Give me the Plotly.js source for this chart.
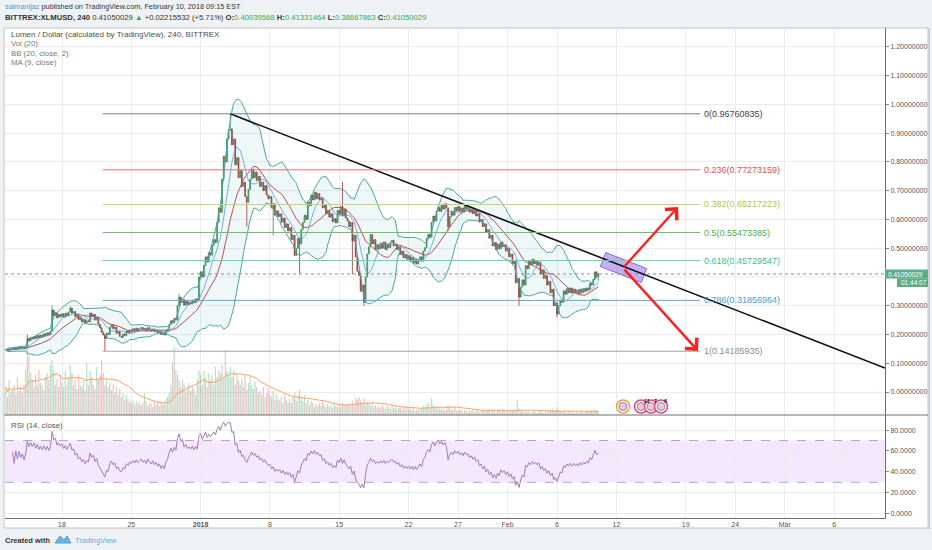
<!DOCTYPE html>
<html>
<head>
<meta charset="utf-8">
<script src="https://cdn.plot.ly/plotly-3.0.1.min.js"></script>
<style>
  html, body { margin: 0; padding: 0; background: #eef2f5; }
  #chart { width: 932px; height: 550px; }
</style>
</head>
<body>
<div id="chart"></div>
<script>
// BITTREX:XLMUSD, 240 minute candles
var firstCandle = Date.UTC(2017, 11, 12, 8, 0);
var candleMs = 4 * 3600 * 1000;
var firstOpen = 0.147;

var closes = [
  0.148, 0.143, 0.151, 0.147,                     // Dec 12
  0.152, 0.147, 0.155, 0.150, 0.157, 0.152,       // Dec 13
  0.156, 0.150, 0.158, 0.186, 0.178, 0.190,
  0.184, 0.194, 0.186, 0.197, 0.189, 0.198,
  0.192, 0.203, 0.196, 0.206, 0.199, 0.212,
  0.285, 0.266, 0.276, 0.258, 0.270, 0.262,       // Dec 17
  0.272, 0.260, 0.274, 0.264, 0.278, 0.292,
  0.274, 0.280, 0.262, 0.270, 0.252, 0.258,
  0.244, 0.252, 0.238, 0.248, 0.244, 0.275,
  0.262, 0.270, 0.250, 0.260, 0.236, 0.224,
  0.208, 0.198, 0.186, 0.205, 0.200, 0.226,       // Dec 22
  0.234, 0.220, 0.226, 0.204, 0.210, 0.194,
  0.190, 0.202, 0.196, 0.212, 0.206, 0.216,
  0.212, 0.220, 0.213, 0.222, 0.214, 0.219,
  0.224, 0.216, 0.221, 0.213, 0.224, 0.217,
  0.212, 0.219, 0.210, 0.215, 0.206, 0.211,       // Dec 27
  0.200, 0.206, 0.198, 0.212, 0.218, 0.235,
  0.248, 0.240, 0.256, 0.250, 0.300, 0.330,
  0.312, 0.322, 0.302, 0.316, 0.304, 0.312,
  0.306, 0.320, 0.310, 0.324, 0.318, 0.400,
  0.418, 0.400, 0.440, 0.470, 0.452, 0.485,       // Jan 1
  0.476, 0.510, 0.530, 0.520, 0.590, 0.640,
  0.625, 0.740, 0.820, 0.800, 0.880, 0.910,
  0.915, 0.860, 0.880, 0.790, 0.815, 0.745,
  0.770, 0.715, 0.730, 0.680, 0.660, 0.705,
  0.740, 0.775, 0.745, 0.765, 0.735, 0.750,       // Jan 6
  0.715, 0.730, 0.700, 0.718, 0.685, 0.672,
  0.680, 0.640, 0.655, 0.615, 0.630, 0.610,
  0.620, 0.590, 0.605, 0.572, 0.585, 0.560,
  0.572, 0.530, 0.545, 0.475, 0.500, 0.535,
  0.515, 0.565, 0.590, 0.615, 0.600, 0.660,       // Jan 11
  0.648, 0.685, 0.668, 0.695, 0.672, 0.690,
  0.668, 0.676, 0.640, 0.652, 0.620, 0.632,
  0.608, 0.620, 0.592, 0.603, 0.588, 0.632,
  0.618, 0.645, 0.612, 0.636, 0.605, 0.595,
  0.575, 0.590, 0.525, 0.545, 0.470, 0.420,       // Jan 16
  0.405, 0.350, 0.372, 0.312, 0.400, 0.480,
  0.505, 0.548, 0.515, 0.530, 0.495, 0.512,
  0.498, 0.518, 0.500, 0.522, 0.495, 0.515,
  0.502, 0.520, 0.528, 0.508, 0.515, 0.495,
  0.505, 0.478, 0.490, 0.466, 0.478, 0.462,       // Jan 21
  0.474, 0.455, 0.468, 0.448, 0.462, 0.445,
  0.456, 0.470, 0.455, 0.490, 0.502, 0.535,
  0.548, 0.538, 0.590, 0.612, 0.595, 0.630,
  0.642, 0.628, 0.650, 0.636, 0.655, 0.640,
  0.575, 0.610, 0.628, 0.615, 0.642, 0.630,       // Jan 26
  0.645, 0.628, 0.640, 0.626, 0.648, 0.636,
  0.642, 0.625, 0.636, 0.620, 0.632, 0.612,
  0.620, 0.592, 0.600, 0.575, 0.585, 0.555,
  0.565, 0.535, 0.545, 0.508, 0.520, 0.495,
  0.515, 0.498, 0.522, 0.505, 0.512, 0.490,       // Jan 31
  0.500, 0.470, 0.480, 0.445, 0.455, 0.380,
  0.395, 0.330, 0.365, 0.390, 0.372, 0.440,
  0.428, 0.455, 0.442, 0.462, 0.446, 0.455,
  0.440, 0.452, 0.410, 0.425, 0.395, 0.405,
  0.372, 0.385, 0.345, 0.358, 0.300, 0.310,       // Feb 5
  0.272, 0.300, 0.320, 0.312, 0.352, 0.340,
  0.360, 0.345, 0.362, 0.344, 0.358, 0.345,
  0.355, 0.342, 0.358, 0.346, 0.360, 0.350,
  0.362, 0.355, 0.378, 0.372, 0.392, 0.418,
  0.40039568, 0.41050029                           // Feb 10
];

// volume per candle (scaled units, as bar heights in the picture)
var volumes = [
  28, 18, 35, 22,
  25, 30, 20, 38, 24, 28,
  22, 30, 45, 80, 60, 42,
  35, 28, 40, 30, 45, 32,
  30, 25, 38, 42, 35, 50,
  55, 45, 30, 36, 28, 40,
  32, 28, 44, 30, 38, 50,
  42, 30, 35, 26, 40, 30,
  28, 35, 25, 52, 30, 44,
  38, 30, 26, 48, 35, 40,
  55, 42, 30, 36, 28, 32,
  25, 30, 22, 28, 20, 26,
  18, 22, 15, 20, 16, 14,
  12, 15, 10, 14, 11, 13,
  10, 12, 22, 14, 9, 12,
  11, 8, 13, 10, 12, 9,
  14, 10, 12, 16, 18, 22,
  30, 52, 68, 45, 40, 35,
  28, 35, 30, 22, 26, 32,
  24, 30, 26, 20, 35, 45,
  40, 30, 44, 38, 28, 42,
  35, 40, 30, 48, 38, 45,
  42, 50, 36, 65, 44, 40,
  48, 38, 45, 30, 42, 35,
  30, 36, 28, 40, 25, 32,
  38, 30, 26, 34, 28, 22,
  24, 20, 28, 18, 22, 26,
  20, 18, 24, 15, 20, 16,
  14, 18, 12, 20, 15, 13,
  16, 12, 18, 22, 14, 20,
  25, 18, 14, 20, 12, 15,
  10, 14, 12, 8, 11, 9,
  12, 9, 14, 10, 8, 11,
  8, 10, 7, 12, 9, 8,
  10, 8, 12, 9, 11, 10,
  12, 9, 14, 11, 17, 15,
  18, 14, 12, 16, 10, 13,
  11, 9, 13, 8, 10, 7,
  9, 7, 10, 8, 6, 9,
  8, 6, 9, 7, 10, 6,
  7, 9, 5, 8, 6, 7,
  6, 8, 5, 7, 4, 6,
  5, 7, 6, 9, 8, 10,
  12, 8, 17, 10, 7, 9,
  6, 8, 5, 7, 4, 6,
  10, 7, 5, 6, 8, 5,
  4, 6, 5, 3, 5, 4,
  3, 5, 4, 6, 3, 4,
  5, 3, 4, 6, 4, 5,
  4, 6, 3, 5, 4, 3,
  5, 4, 3, 6, 4, 3,
  4, 3, 5, 4, 6, 5,
  15, 6, 4, 5, 3, 4,
  3, 4, 2, 3, 5, 3,
  2, 3, 4, 3, 2, 4,
  3, 5, 4, 6, 5, 4,
  8, 5, 4, 3, 4, 3,
  2, 3, 4, 2, 3, 2,
  3, 2, 3, 4, 2, 3,
  3, 4, 3, 5, 4, 6,
  5, 4
];

// long wicks that stand out
var wickTimes = ['2017-12-14 12:00', '2017-12-17 00:00', '2017-12-18 20:00', '2017-12-22 08:00',
  '2017-12-29 20:00', '2018-01-04 00:00', '2018-01-05 16:00', '2018-01-08 08:00', '2018-01-11 00:00',
  '2018-01-15 08:00', '2018-01-16 08:00', '2018-01-17 12:00', '2018-01-26 00:00', '2018-02-02 04:00',
  '2018-02-06 00:00', '2018-02-10 04:00'];
var wickHighs = [0.200, 0.300, 0.298, null, 0.340, 0.96760835, null, null, null,
  0.730, null, null, null, null, null, 0.41331464];
var wickLows = [null, null, null, 0.14185935, null, null, 0.575, 0.545, 0.410,
  null, 0.410, 0.300, 0.560, 0.300, 0.260, 0.38667863];

// fibonacci retracement drawn between the Dec 22 low and the Jan 4 high
var fibRatios = ['0', '0.236', '0.382', '0.5', '0.618', '0.786', '1'];
var fibPrices = [0.96760835, 0.77273159, 0.65217223, 0.55473385, 0.45729547, 0.31856964, 0.14185935];
var fibLineColors = ['#7d7d7d', '#e57373', '#cdd46e', '#6cc06c', '#66d2b4', '#5ca8d8', '#a0a0a0'];
var fibTextColors = ['#444444', '#d9534f', '#b9c04a', '#4caf50', '#3dbb9b', '#4a9bd1', '#8c8c8c'];

var tickDates = ['2017-12-18', '2017-12-25', '2018-01-01', '2018-01-08', '2018-01-15', '2018-01-22',
  '2018-01-27', '2018-02-01', '2018-02-06', '2018-02-12', '2018-02-19', '2018-02-24', '2018-03-01', '2018-03-06'];
var tickText = ['18', '25', '<b>2018</b>', '8', '15', '22', '27', 'Feb', '6', '12', '19', '24', 'Mar', '6'];
// 0.4 is covered by the last-price tag, so it gets only a grid line
var priceTicks = [0, 0.1, 0.2, 0.3, 0.5, 0.6, 0.7, 0.8, 0.9, 1.0, 1.1, 1.2];
var rsiTicks = [0, 20, 40, 60, 80];

var lastPrice = 0.41050029;

// ---------- helpers ----------
var W = 932, H = 550, ML = 5, MR = 47, MT = 28, MB = 32;
function px(x) { return (x - ML) / (W - ML - MR); }
function py(y) { return (H - MB - y) / (H - MT - MB); }
function stamp(ms) { return new Date(ms).toISOString().slice(0, 16).replace('T', ' '); }

function movingAvg(arr, n) {
  return arr.map(function (v, i) {
    var s = 0, k = 0;
    for (var j = Math.max(0, i - n + 1); j <= i; j++) { s += arr[j]; k++; }
    return s / k;
  });
}
function movingStd(arr, n, mean) {
  return arr.map(function (v, i) {
    var s = 0, k = 0;
    for (var j = Math.max(0, i - n + 1); j <= i; j++) { s += Math.pow(arr[j] - mean[i], 2); k++; }
    return Math.sqrt(s / k);
  });
}
function rsi(arr, n, skip) {
  var out = [null], gain = 0, loss = 0;
  for (var i = 1; i < arr.length; i++) {
    var ch = arr[i] - arr[i - 1];
    var k = Math.min(i, n);
    gain = (gain * (k - 1) + Math.max(ch, 0)) / k;
    loss = (loss * (k - 1) + Math.max(-ch, 0)) / k;
    out.push(i < skip ? null : (loss === 0 ? 100 : 100 - 100 / (1 + gain / loss)));
  }
  return out;
}

var n = Math.min(closes.length, volumes.length);
var times = [], opens = [], highs = [], lows = [], volColors = [];
for (var i = 0; i < n; i++) {
  times.push(stamp(firstCandle + i * candleMs));
  var o = i === 0 ? firstOpen : closes[i - 1];
  opens.push(o);
  var hi = Math.max(o, closes[i]), lo = Math.min(o, closes[i]);
  var w = wickTimes.indexOf(times[i]);
  if (w >= 0) {
    if (wickHighs[w] !== null) hi = Math.max(hi, wickHighs[w]);
    if (wickLows[w] !== null) lo = Math.min(lo, wickLows[w]);
  }
  highs.push(hi); lows.push(lo);
  volColors.push(closes[i] >= o ? 'rgba(110,190,140,0.48)' : 'rgba(225,120,130,0.45)');
}
var cl = closes.slice(0, n);
var basis = movingAvg(cl, 20);
var dev = movingStd(cl, 20, basis);
var upper = basis.map(function (b, i) { return b + 2 * dev[i]; });
var lower = basis.map(function (b, i) { return b - 2 * dev[i]; });
var ma9 = movingAvg(cl, 9);
var volMa = movingAvg(volumes.slice(0, n), 20);
var rsiVals = rsi(cl, 14, 4);

var xRange = ['2017-12-12 05:49', '2018-03-11 03:10'];
var fibStart = '2017-12-22 02:40', fibEnd = '2018-02-20 10:48';
var trendStart = ['2018-01-04 00:00', 0.96760835], trendEnd = [xRange[1], 0.0835];

// ---------- traces ----------
var traces = [
  { type: 'bar', x: times, y: volumes.slice(0, n), xaxis: 'x', yaxis: 'y',
    marker: { color: volColors, line: { width: 0 } }, width: candleMs * 0.75 },
  { type: 'scatter', mode: 'lines', x: times, y: volMa, xaxis: 'x', yaxis: 'y',
    line: { color: '#f4a460', width: 1 } },
  { type: 'scatter', mode: 'lines', x: times, y: upper, xaxis: 'x', yaxis: 'y3',
    line: { color: '#4aa6a0', width: 1 } },
  { type: 'scatter', mode: 'lines', x: times, y: lower, xaxis: 'x', yaxis: 'y3',
    line: { color: '#4aa6a0', width: 1 }, fill: 'tonexty', fillcolor: 'rgba(120,200,205,0.13)' },
  { type: 'scatter', mode: 'lines', x: times, y: basis, xaxis: 'x', yaxis: 'y3',
    line: { color: '#b5524f', width: 1 } },
  { type: 'candlestick', x: times, open: opens, high: highs, low: lows, close: cl,
    xaxis: 'x', yaxis: 'y3', whiskerwidth: 0,
    increasing: { line: { color: '#2f8a56', width: 0.8 }, fillcolor: '#3fa56a' },
    decreasing: { line: { color: '#9e3030', width: 0.8 }, fillcolor: '#c2403f' } },
  { type: 'scatter', mode: 'lines', x: times, y: ma9, xaxis: 'x', yaxis: 'y3',
    line: { color: '#5a9bd8', width: 0.8 } },
  { type: 'scatter', mode: 'lines', x: times, y: rsiVals, xaxis: 'x', yaxis: 'y2',
    line: { color: '#a07cb8', width: 1 } },
  // highlighted zone on the trendline
  { type: 'scatter', mode: 'lines', xaxis: 'x', yaxis: 'y3',
    x: ['2018-02-10 08:53', '2018-02-10 22:05', '2018-02-15 01:26', '2018-02-14 12:28', '2018-02-10 08:53'],
    y: [0.4365, 0.4852, 0.4296, 0.3809, 0.4365],
    fill: 'toself', fillcolor: 'rgba(150,110,225,0.55)', line: { color: '#8a6ad6', width: 1 } }
];

// ---------- shapes ----------
var shapes = [
  { type: 'rect', xref: 'paper', yref: 'paper', x0: px(4), x1: px(928), y0: py(528), y1: py(28),
    fillcolor: '#ffffff', line: { color: '#c4c4c4', width: 1 }, layer: 'below' },
  { type: 'line', xref: 'paper', yref: 'paper', x0: px(929), x1: px(929), y0: py(529), y1: py(28),
    line: { color: '#d0d3d6', width: 2 } },
  { type: 'line', xref: 'paper', yref: 'y3', x0: 0, x1: 1, y0: 0.4, y1: 0.4,
    line: { color: '#ececec', width: 1 }, layer: 'below' },
  { type: 'rect', xref: 'paper', yref: 'y2', x0: 0, x1: 1, y0: 30, y1: 70,
    fillcolor: 'rgba(215,170,250,0.28)', line: { width: 0 }, layer: 'below' },
  { type: 'line', xref: 'paper', yref: 'y2', x0: 0, x1: 1, y0: 70, y1: 70,
    line: { color: '#b9a3c9', width: 1, dash: 'dash' } },
  { type: 'line', xref: 'paper', yref: 'y2', x0: 0, x1: 1, y0: 30, y1: 30,
    line: { color: '#b9a3c9', width: 1, dash: 'dash' } },
  { type: 'line', xref: 'paper', yref: 'paper', x0: px(4), x1: px(928), y0: py(415), y1: py(415),
    line: { color: '#6e6e6e', width: 1 } },
  { type: 'line', xref: 'paper', yref: 'y3', x0: 0, x1: 1, y0: lastPrice, y1: lastPrice,
    line: { color: '#8c8c8c', width: 1, dash: 'dot' } },
  { type: 'line', xref: 'x', yref: 'y3', x0: trendStart[0], y0: trendStart[1], x1: trendEnd[0], y1: trendEnd[1],
    line: { color: '#111111', width: 1.6 } },
  { type: 'rect', xref: 'paper', yref: 'paper', x0: px(885), x1: px(928), y0: py(278.5), y1: py(269.5),
    fillcolor: '#5aad86', line: { width: 0 } },
  { type: 'rect', xref: 'paper', yref: 'paper', x0: px(897), x1: px(928), y0: py(287), y1: py(278.5),
    fillcolor: '#5aad86', line: { width: 0 } }
];
fibPrices.forEach(function (p, i) {
  shapes.push({ type: 'line', xref: 'x', yref: 'y3', x0: fibStart, x1: fibEnd, y0: p, y1: p,
    line: { color: fibLineColors[i], width: 1 } });
});
// economic calendar markers
var eventPx = [623, 641, 651, 661];
var eventRing = ['#f0a040', '#e3447a', '#e3447a', '#e3447a'];
eventPx.forEach(function (x, i) {
  shapes.push({ type: 'circle', xref: 'paper', yref: 'paper', x0: px(x - 6.5), x1: px(x + 6.5),
    y0: py(413), y1: py(400), fillcolor: '#ffffff', line: { color: eventRing[i], width: 1.5 } });
  shapes.push({ type: 'circle', xref: 'paper', yref: 'paper', x0: px(x - 4), x1: px(x + 4),
    y0: py(410.5), y1: py(402.5), fillcolor: '#f2c6cb', line: { color: '#6b8ccf', width: 1 } });
});
// TradingView logo
shapes.push({ type: 'path', xref: 'paper', yref: 'paper',
  path: 'M' + px(55) + ',' + py(543) + ' L' + px(60) + ',' + py(536) + ' L' + px(64) + ',' + py(540) +
    ' L' + px(67) + ',' + py(536) + ' L' + px(71) + ',' + py(543) + ' Z',
  fillcolor: '#6db3e0', line: { color: '#4a9fd8', width: 1 } });

// ---------- annotations ----------
var F = 'Liberation Sans, Arial, sans-serif';
function label(x, y, text, size, color, extra) {
  var a = { xref: 'paper', yref: 'paper', x: px(x), y: py(y), xanchor: 'left', yanchor: 'middle',
    text: text, showarrow: false, font: { family: F, size: size, color: color } };
  for (var k in extra) a[k] = extra[k];
  return a;
}
var g = function (t) { return '<span style="color:#35a853">' + t + '</span>'; };
var annotations = [
  label(3, 7, '<span style="color:#4a9fd9">salmanijaz</span> published on TradingView.com, February 10, 2018 09:15 EST', 7.3, '#333'),
  label(3, 17.5, '<b>BITTREX:XLMUSD, 240</b> 0.41050029 ' + g('▲') + ' +0.02215532 (+5.71%) <b>O:</b>' + g('0.40039568') +
    ' <b>H:</b>' + g('0.41331464') + ' <b>L:</b>' + g('0.38667863') + ' <b>C:</b>' + g('0.41050029'), 7.7, '#333'),
  label(9, 34.5, 'Lumen / Dollar (calculated by TradingView), 240, BITTREX', 8, '#4d4d4d'),
  label(9, 44, 'Vol (20)', 7.8, '#777'),
  label(9, 53.5, 'BB (20, close, 2)', 7.8, '#777'),
  label(9, 63, 'MA (9, close)', 7.8, '#777'),
  label(9, 425.5, 'RSI (14, close)', 7.8, '#555'),
  label(3, 540, '<b>Created with</b>', 7.5, '#333'),
  label(73, 540, 'TradingView', 7.5, '#5fa9dc'),
  label(886, 274, '0.41050029', 6.5, '#ffffff'),
  label(899, 282.7, '01:44:07', 6.5, '#ffffff'),
  label(642, 401, '<b>11</b>', 5.5, '#222'),
  label(652, 401, '<b>7</b>', 5.5, '#222'),
  label(662, 401, '<b>6</b>', 5.5, '#222'),
  // projection arrows
  { xref: 'x', yref: 'y3', x: '2018-02-18 05:20', y: 0.6435, ax: -55, ay: 61, text: '', showarrow: true,
    arrowhead: 4, arrowsize: 1.3, arrowwidth: 2.4, arrowcolor: '#ff1f1f', standoff: 0 },
  { xref: 'x', yref: 'y3', x: '2018-02-20 05:45', y: 0.143, ax: -75, ay: -83, text: '', showarrow: true,
    arrowhead: 4, arrowsize: 1.3, arrowwidth: 2.4, arrowcolor: '#ff1f1f', standoff: 0 }
];
fibPrices.forEach(function (p, i) {
  annotations.push({ xref: 'x', yref: 'y3', x: fibEnd, y: p, xanchor: 'left', yanchor: 'middle', xshift: 2,
    text: fibRatios[i] + '(' + p.toFixed(8) + ')', showarrow: false,
    font: { family: F, size: 9, color: fibTextColors[i] } });
});

var axisFont = { family: F, size: 7, color: '#555' };
var layout = {
  width: W, height: H,
  margin: { l: ML, r: MR, t: MT, b: MB },
  paper_bgcolor: '#eef2f5',
  plot_bgcolor: '#ffffff',
  showlegend: false,
  hovermode: false,
  xaxis: {
    type: 'date', range: xRange, anchor: 'y2',
    tickvals: tickDates, ticktext: tickText, tickfont: axisFont,
    showgrid: true, gridcolor: '#ececec', showline: true, linecolor: '#6e6e6e',
    ticks: '', rangeslider: { visible: false }, fixedrange: true
  },
  yaxis: { domain: [py(415), 1], range: [0, 387], visible: false, fixedrange: true },
  yaxis3: {
    overlaying: 'y', anchor: 'x', side: 'right', range: [-0.080, 1.266],
    tickvals: priceTicks, tickformat: '.8f', tickfont: axisFont,
    ticks: 'outside', ticklen: 3, tickcolor: '#888',
    showgrid: true, gridcolor: '#ececec', zeroline: false,
    showline: true, linecolor: '#6e6e6e', fixedrange: true
  },
  yaxis2: {
    domain: [0, py(415)], anchor: 'x', side: 'right', range: [-4.1, 94.4],
    tickvals: rsiTicks, tickformat: '.4f', tickfont: axisFont,
    ticks: 'outside', ticklen: 3, tickcolor: '#888',
    showgrid: true, gridcolor: '#ececec', zeroline: false,
    showline: true, linecolor: '#6e6e6e', fixedrange: true
  },
  shapes: shapes,
  annotations: annotations
};

Plotly.newPlot('chart', traces, layout, { staticPlot: true, displayModeBar: false });
</script>
</body>
</html>
